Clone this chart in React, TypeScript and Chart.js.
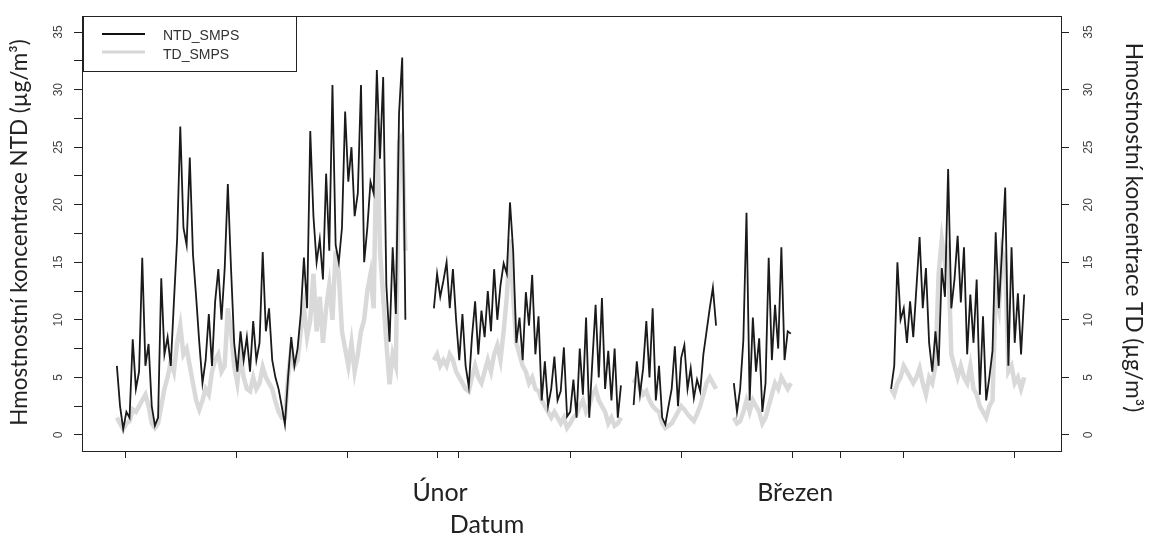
import React, { useEffect, useRef } from 'react';
import { Chart, registerables } from 'chart.js';

Chart.register(...registerables);

// ---------- data ----------
const STEP = 0.25; // days between samples
const X_MIN = 3.0;
const X_MAX = 80.2;
const Y_MIN = -1.4;
const Y_MAX = 36.4;

const X_TICKS = [6.4, 15.15, 23.9, 31, 32.7, 41.5, 50.25, 59, 62.8, 67.75, 76.55];
const MONTH_DAYS = [31, 59];
const MONTH_NAMES = ['Únor', 'Březen'];
const Y_TICKS_LEFT = [0, 2.5, 5, 7.5, 10, 12.5, 15, 17.5, 20, 22.5, 25, 27.5, 30, 32.5, 35];
const Y_TICKS_RIGHT = [0, 5, 10, 15, 20, 25, 30, 35];
const Y_LABELS = [0, 5, 10, 15, 20, 25, 30, 35];

const SEG_STARTS = [5.75, 30.75, 46.5, 54.4, 66.8];

const NTD_1 = [6.0, 2.5, 0.5, 2.0, 1.5, 8.3, 4.0, 5.5, 15.4, 6.0, 7.9, 2.5, 0.8, 1.5, 13.6, 7.0, 8.5, 6.0, 11.6, 17.0, 26.8, 18.0, 16.5, 24.1, 15.7, 12.0, 8.0, 4.5, 6.5, 10.5, 6.0, 11.6, 14.4, 10.0, 14.4, 21.8, 14.5, 8.0, 5.5, 9.0, 6.5, 8.5, 5.5, 9.9, 6.5, 8.0, 15.9, 9.0, 11.0, 6.5, 5.0, 4.0, 2.5, 0.9, 5.0, 8.5, 6.0, 7.5, 10.5, 15.4, 11.0, 26.4, 19.0, 15.0, 17.0, 13.5, 22.7, 16.0, 30.4, 16.5, 15.0, 18.0, 28.1, 22.0, 25.0, 19.0, 21.0, 30.4, 15.0, 18.0, 22.0, 21.0, 31.7, 24.0, 31.1, 13.0, 8.1, 16.3, 10.5, 27.9, 32.8, 10.0];
const NTD_2 = [11.0, 14.0, 12.0, 13.4, 15.0, 11.0, 14.4, 10.0, 6.5, 10.5, 6.0, 4.2, 8.5, 11.6, 7.0, 10.8, 8.5, 12.5, 9.0, 14.4, 10.0, 13.0, 14.9, 14.0, 20.2, 16.0, 8.0, 10.2, 6.5, 12.4, 9.5, 13.9, 7.0, 10.3, 3.0, 6.4, 2.5, 4.0, 6.8, 3.0, 3.8, 7.6, 1.6, 2.0, 4.8, 1.5, 7.5, 3.5, 10.2, 1.5, 6.5, 11.3, 5.0, 11.9, 4.0, 7.3, 3.0, 7.5, 1.5, 4.3];
const NTD_3 = [2.6, 6.4, 3.5, 5.8, 9.9, 5.0, 11.0, 3.0, 6.0, 1.5, 0.9, 2.5, 4.0, 7.7, 2.5, 6.7, 7.8, 4.0, 5.8, 3.2, 4.8, 3.8, 7.0, 9.0, 11.0, 12.8, 9.5];
const NTD_4 = [4.5, 2.0, 4.0, 8.2, 19.3, 3.0, 10.2, 5.5, 8.4, 2.0, 4.5, 15.4, 6.5, 11.3, 7.5, 16.3, 6.5, 9.0, 8.8];
const NTD_5 = [4.0, 6.0, 15.0, 10.0, 11.0, 8.0, 11.6, 8.5, 12.8, 17.2, 11.0, 14.5, 8.0, 5.5, 9.0, 6.0, 14.5, 12.0, 23.1, 11.0, 13.5, 17.3, 11.5, 16.3, 7.0, 12.2, 8.0, 13.5, 3.5, 10.3, 3.0, 5.0, 7.3, 17.6, 11.0, 16.0, 21.5, 6.0, 16.3, 8.0, 12.3, 7.0, 12.2];

const TD_1 = [1.5, 1.0, 0.5, 1.0, 1.2, 2.2, 2.0, 2.5, 3.0, 3.5, 2.5, 1.0, 0.6, 1.0, 2.5, 4.0, 5.0, 6.4, 5.5, 8.0, 9.5, 7.0, 7.5, 6.0, 4.5, 3.0, 2.2, 3.0, 4.0, 3.5, 5.5, 6.5, 7.0, 5.5, 6.0, 11.0, 9.0, 6.0, 4.5, 7.0, 5.0, 4.0, 3.8, 5.0, 4.0, 4.5, 5.9, 5.0, 4.5, 4.0, 2.9, 2.0, 1.5, 1.5, 5.0, 7.5, 6.0, 6.5, 9.0, 11.0, 8.5, 10.0, 14.0, 9.0, 12.0, 8.0, 11.0, 13.0, 10.0, 16.0, 14.0, 9.0, 7.5, 6.0, 8.0, 5.5, 7.0, 9.0, 10.0, 12.5, 14.0, 11.0, 27.5, 16.0, 12.0, 8.0, 4.4, 7.0, 6.0, 25.5, 26.0, 16.0];
const TD_2 = [6.5, 7.0, 6.0, 6.5, 6.0, 7.0, 6.5, 5.5, 5.0, 4.5, 4.0, 3.8, 5.0, 6.0, 5.0, 4.5, 5.5, 6.5, 5.5, 7.0, 7.8, 6.5, 9.0, 12.0, 17.0, 12.0, 8.0, 7.0, 6.0, 5.5, 4.5, 5.0, 4.0, 3.8, 3.0, 2.5, 2.0, 1.5, 2.0, 1.5, 1.0, 1.5, 0.6, 1.0, 1.5, 1.8, 2.5, 3.0, 2.0, 2.5, 3.5, 4.0, 3.0, 2.5, 2.0, 1.0, 1.5, 0.8, 1.0, 1.5];
const TD_3 = [4.5, 5.0, 4.0, 3.5, 3.8, 3.0, 2.5, 2.2, 2.0, 1.0, 0.6, 0.8, 1.0, 1.5, 2.0, 2.5, 2.2, 1.8, 1.5, 1.2, 1.8, 2.5, 3.5, 4.5, 5.0, 4.5, 4.0];
const TD_4 = [1.5, 1.0, 1.2, 2.0, 3.0, 2.0, 3.0, 2.5, 2.0, 1.0, 1.5, 2.5, 3.5, 4.5, 4.0, 5.0, 4.5, 4.0, 4.5];
const TD_5 = [4.0, 3.5, 4.5, 5.0, 6.0, 5.5, 5.0, 4.5, 5.0, 5.8, 4.5, 3.5, 5.0, 4.5, 6.0, 14.0, 17.0, 15.0, 16.0, 7.0, 6.0, 5.0, 6.0, 5.0, 4.5, 6.0, 4.0, 3.5, 2.5, 2.0, 1.5, 2.5, 3.0, 12.5, 11.0, 16.0, 15.0, 5.5, 6.0, 4.5, 5.0, 4.0, 5.0];

const NTD_SEGMENTS = [NTD_1, NTD_2, NTD_3, NTD_4, NTD_5];
const TD_SEGMENTS = [TD_1, TD_2, TD_3, TD_4, TD_5];

function buildSeries(segments: number[][]) {
  const pts: { x: number; y: number | null }[] = [];
  segments.forEach((seg, s) => {
    const start = SEG_STARTS[s];
    if (s > 0) {
      const prevEnd = SEG_STARTS[s - 1] + (segments[s - 1].length - 1) * STEP;
      pts.push({ x: (prevEnd + start) / 2, y: null });
    }
    seg.forEach((v, i) => pts.push({ x: start + i * STEP, y: v }));
  });
  return pts;
}

const TICK_FONT = '12px "Liberation Sans", Arial, sans-serif';
const TITLE_FONT = '22.5px Lato, "Open Sans", sans-serif';
const BIG_FONT = '25px Lato, "Open Sans", sans-serif';
const LEGEND_FONT = '14px "Liberation Sans", Arial, sans-serif';

const decorPlugin = {
  id: 'decor',
  afterDraw(chart: any) {
    const { ctx, chartArea: a, scales } = chart;
    ctx.save();
    // plot box
    ctx.strokeStyle = '#222';
    ctx.lineWidth = 1;
    ctx.strokeRect(a.left + 0.5, a.top + 0.5, a.right - a.left, a.bottom - a.top);

    // y tick labels (rotated, parallel to axis)
    ctx.fillStyle = '#444';
    ctx.font = TICK_FONT;
    ctx.textAlign = 'center';
    ctx.textBaseline = 'middle';
    Y_LABELS.forEach((v) => {
      const py = scales.y.getPixelForValue(v);
      ctx.save();
      ctx.translate(59, py);
      ctx.rotate(-Math.PI / 2);
      ctx.fillText(String(v), 0, 0);
      ctx.restore();
      const py2 = scales.y2.getPixelForValue(v);
      ctx.save();
      ctx.translate(1089, py2);
      ctx.rotate(-Math.PI / 2);
      ctx.fillText(String(v), 0, 0);
      ctx.restore();
    });

    // axis titles
    ctx.fillStyle = '#222';
    ctx.font = TITLE_FONT;
    const midY = (a.top + a.bottom) / 2;
    ctx.save();
    ctx.translate(20, midY - 1);
    ctx.rotate(-Math.PI / 2);
    ctx.fillText('Hmostnostní koncentrace NTD (µg/m³)', 0, 0);
    ctx.restore();
    ctx.save();
    ctx.translate(1133, midY - 6);
    ctx.rotate(Math.PI / 2);
    ctx.fillText('Hmostnostní koncentrace TD (µg/m³)', 0, 0);
    ctx.restore();

    // month labels and x title
    ctx.font = BIG_FONT;
    MONTH_DAYS.forEach((d, i) => {
      ctx.fillText(MONTH_NAMES[i], scales.x.getPixelForValue(d) + 3, 493);
    });
    ctx.fillText('Datum', 487, 525);

    // legend
    ctx.strokeStyle = '#222';
    ctx.lineWidth = 1;
    ctx.strokeRect(83.5, 16.5, 213, 55);
    ctx.lineWidth = 2;
    ctx.strokeStyle = '#111';
    ctx.beginPath();
    ctx.moveTo(102, 34);
    ctx.lineTo(145, 34);
    ctx.stroke();
    ctx.lineWidth = 3;
    ctx.strokeStyle = '#d8d8d8';
    ctx.beginPath();
    ctx.moveTo(102, 52);
    ctx.lineTo(145, 52);
    ctx.stroke();
    ctx.fillStyle = '#333';
    ctx.font = LEGEND_FONT;
    ctx.textAlign = 'left';
    ctx.fillText('NTD_SMPS', 163, 36);
    ctx.fillText('TD_SMPS', 163, 55);
    ctx.restore();
  },
};

export default function App() {
  const ref = useRef<HTMLCanvasElement | null>(null);
  useEffect(() => {
    if (!ref.current) return;
    const tickGrid = (len: number) => ({
      display: true,
      drawOnChartArea: false,
      drawTicks: true,
      tickLength: len,
      color: '#222',
      lineWidth: 1,
    });
    const chart = new Chart(ref.current, {
      type: 'line',
      data: {
        datasets: [
          {
            label: 'NTD_SMPS',
            data: buildSeries(NTD_SEGMENTS) as any,
            borderColor: '#1a1a1a',
            borderWidth: 1.8,
            pointRadius: 0,
            tension: 0,
            spanGaps: false,
            yAxisID: 'y',
          },
          {
            label: 'TD_SMPS',
            data: buildSeries(TD_SEGMENTS) as any,
            borderColor: '#d9d9d9',
            borderWidth: 4.5,
            pointRadius: 0,
            tension: 0,
            spanGaps: false,
            yAxisID: 'y2',
          },
        ],
      },
      options: {
        responsive: false,
        animation: false,
        layout: { padding: { top: 16, left: 0, right: 0, bottom: 0 } },
        plugins: { legend: { display: false }, tooltip: { enabled: false } },
        scales: {
          x: {
            type: 'linear',
            min: X_MIN,
            max: X_MAX,
            afterBuildTicks: (s: any) => {
              s.ticks = X_TICKS.map((v) => ({ value: v }));
            },
            ticks: { display: false },
            grid: tickGrid(7),
            border: { display: false },
            afterFit: (s: any) => {
              s.height = 89;
            },
          },
          y: {
            position: 'left',
            min: Y_MIN,
            max: Y_MAX,
            afterBuildTicks: (s: any) => {
              s.ticks = Y_TICKS_LEFT.map((v) => ({ value: v }));
            },
            ticks: { display: false },
            grid: tickGrid(8),
            border: { display: false },
            afterFit: (s: any) => {
              s.width = 82;
            },
          },
          y2: {
            position: 'right',
            min: Y_MIN,
            max: Y_MAX,
            afterBuildTicks: (s: any) => {
              s.ticks = Y_TICKS_RIGHT.map((v) => ({ value: v }));
            },
            ticks: { display: false },
            grid: tickGrid(8),
            border: { display: false },
            afterFit: (s: any) => {
              s.width = 88;
            },
          },
        },
      },
      plugins: [decorPlugin],
    });
    return () => chart.destroy();
  }, []);
  return (
    <div style={{ position: 'fixed', left: 0, top: 0, width: 1149, height: 540, background: '#fff' }}>
      <canvas ref={ref} width={1149} height={540} style={{ width: 1149, height: 540 }} />
    </div>
  );
}
